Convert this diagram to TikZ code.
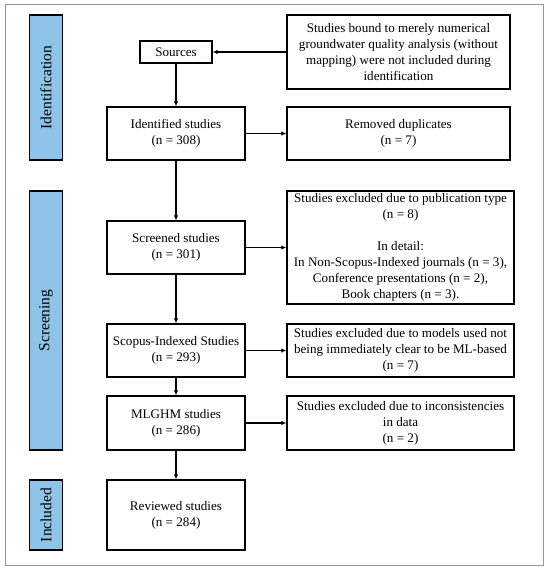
\documentclass[tikz,border=0pt]{standalone}
\usepackage{fontspec}
\setmainfont{Liberation Serif}
\usetikzlibrary{arrows.meta}
\definecolor{barblue}{RGB}{142,196,232}
\definecolor{framegrey}{RGB}{150,150,150}
\tikzset{
  box/.style={draw=black, line width=1.3pt, fill=white, align=center, inner sep=0pt,
    font=\fontsize{13.1}{16}\selectfont},
  bar/.style={draw=black, line width=1.3pt, fill=barblue, rotate=90, inner sep=0pt,
    minimum height=33pt, font=\fontsize{15.5}{18}\selectfont},
  arr/.style={line width=1.3pt, -{Latex[length=5pt,width=4.5pt]}}
}
\begin{document}
\begin{tikzpicture}[x=1pt,y=-1pt]
\useasboundingbox (0,0) rectangle (550,573);
\draw[framegrey, line width=1pt] (5,4) rectangle (543,565);
% phase bars
\node[bar, minimum width=145pt] (bid) at (46,87.5) {Identification};
\node[bar, minimum width=259pt] (bsc) at (46,320.5) {Screening};
\node[bar, minimum width=70pt] (binc) at (46,515) {Included};
% main column
\node[box, minimum width=72pt, minimum height=22pt] (src) at (176,52) {Sources};
\node[box, minimum width=138pt, minimum height=53pt] (ident) at (176,133.5) {Identified studies\\(n = 308)};
\node[box, minimum width=138pt, minimum height=53pt] (scr) at (176,247.5) {Screened studies\\(n = 301)};
\node[box, minimum width=138pt, minimum height=53pt] (scop) at (176,350.5) {Scopus-Indexed Studies\\(n = 293)};
\node[box, minimum width=138pt, minimum height=54pt] (mlg) at (176,423) {MLGHM studies\\(n = 286)};
\node[box, minimum width=138pt, minimum height=70pt] (rev) at (176,515) {Reviewed studies\\(n = 284)};
% right column
\node[box, minimum width=223pt, minimum height=74pt] (notinc) at (398.5,52) {Studies bound to merely numerical\\groundwater quality analysis (without\\mapping) were not included during\\identification};
\node[box, minimum width=223pt, minimum height=53pt] (dup) at (398.5,133.5) {Removed duplicates\\(n = 7)};
\node[box, minimum width=227pt, minimum height=113pt] (pub) at (400.5,247.5) {Studies excluded due to publication type\\(n = 8)\\[16pt]In detail:\\In Non-Scopus-Indexed journals (n = 3),\\Conference presentations (n = 2),\\Book chapters (n = 3).};
\node[box, minimum width=227pt, minimum height=53pt] (mod) at (400.5,350.5) {Studies excluded due to models used not\\being immediately clear to be ML-based\\(n = 7)};
\node[box, minimum width=227pt, minimum height=54pt] (inc) at (400.5,423) {Studies excluded due to inconsistencies\\in data\\(n = 2)};
% connectors
\draw[arr] (notinc.west) -- (src.east);
\draw[arr] (src.south) -- (ident.north);
\draw[arr] (ident.south) -- (scr.north);
\draw[arr] (scr.south) -- (scop.north);
\draw[arr] (scop.south) -- (mlg.north);
\draw[arr] (mlg.south) -- (rev.north);
\draw[arr] (ident.east) -- (dup.west);
\draw[arr] (scr.east) -- (pub.west);
\draw[arr] (scop.east) -- (mod.west);
\draw[arr] (mlg.east) -- (inc.west);
\end{tikzpicture}
\end{document}
